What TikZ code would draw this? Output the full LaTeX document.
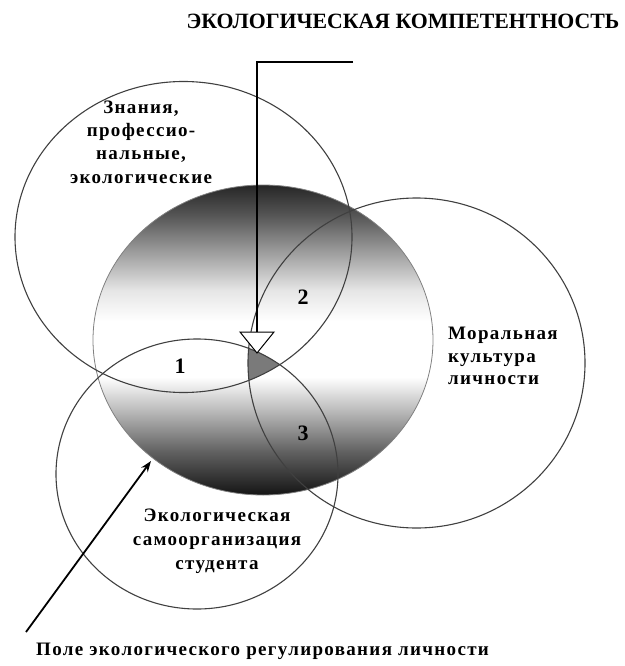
\documentclass[tikz,border=0pt]{standalone}
\usepackage{fontspec}
\setmainfont{Liberation Serif}
\usetikzlibrary{arrows.meta}
\pgfdeclareverticalshading{eco}{100bp}{color(0bp)=(black!92); color(25bp)=(black!92); color(32bp)=(black!62); color(39bp)=(black!25); color(44bp)=(white); color(53bp)=(white); color(58bp)=(black!10); color(64.5bp)=(black!40); color(70bp)=(black!66); color(75bp)=(black!85); color(100bp)=(black!85)}
\newcommand{\bodyfont}[1]{\bfseries\fontsize{19}{#1}\selectfont\addfontfeatures{LetterSpace=7}}
\tikzset{
  ring/.style={draw=black!75, line width=1.1pt},
  lbl/.style={font=\bodyfont{23.3}, inner sep=0pt, align=center},
  num/.style={font=\bfseries\fontsize{22}{24}\selectfont, inner sep=0pt},
  ttl/.style={font=\bfseries\fontsize{21.8}{24}\selectfont, inner sep=0pt},
  pointer/.style={draw=black, line width=1.1pt}
}
\begin{document}
\begin{tikzpicture}[x=1pt,y=-1pt]
\useasboundingbox (0,0) rectangle (624,666);
% shaded field
\path[shading=eco, draw=black!50, line width=0.8pt] (263,340) ellipse [x radius=170pt, y radius=155pt];
% triple intersection
\begin{scope}
  \clip (183.5,237) ellipse [x radius=168.5pt, y radius=155.5pt];
  \clip (197,474) ellipse [x radius=141pt, y radius=135pt];
  \fill[black!52] (416.5,363) ellipse [x radius=168.5pt, y radius=165pt];
\end{scope}
% circles
\draw[ring] (183.5,237) ellipse [x radius=168.5pt, y radius=155.5pt];
\draw[ring] (416.5,363) ellipse [x radius=168.5pt, y radius=165pt];
\draw[ring] (197,474) ellipse [x radius=141pt, y radius=135pt];
% top pointer
\coordinate (kstart) at (353,62);
\coordinate (kcorner) at (257,62);
\coordinate (ktri) at (257,332);
\draw[pointer] (kstart) -- (kcorner) -- (ktri);
\draw[pointer, fill=white, line width=1pt] (240,332) -- (274,332) -- (257,353) -- cycle;
% bottom arrow
\coordinate (ptail) at (26,632);
\coordinate (phead) at (151,461);
\draw[pointer, line width=1.8pt, -{Stealth[length=11pt,width=8pt]}] (ptail) -- (phead);
% texts
\node[ttl] (title) at (403,21) {ЭКОЛОГИЧЕСКАЯ КОМПЕТЕНТНОСТЬ};
\node[lbl] (know) at (141,142) {Знания,\\профессио-\\нальные,\\экологические};
\node[lbl, anchor=west, align=left, font=\bodyfont{22.5}] (moral) at (448,356) {Моральная\\культура\\личности};
\node[lbl, font=\bodyfont{24}] (self) at (217,541) {Экологическая\\самоорганизация\\студента};
\node[lbl, anchor=west] (field) at (36,651) {Поле экологического регулирования личности};
\node[num] (n1) at (180,366) {1};
\node[num] (n2) at (303,297) {2};
\node[num] (n3) at (303,433) {3};
\end{tikzpicture}
\end{document}
